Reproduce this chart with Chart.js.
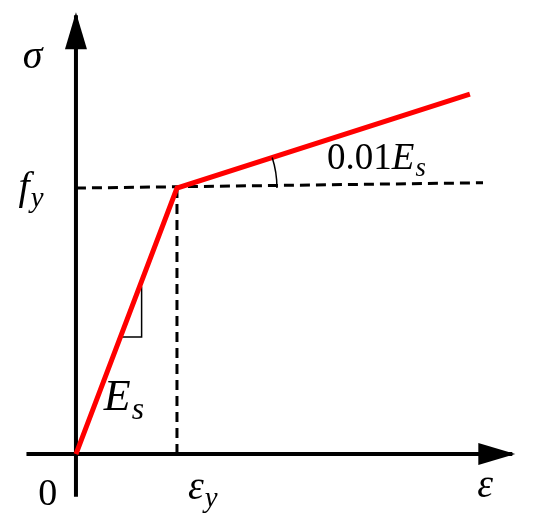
<!DOCTYPE html>
<html lang="en">
<head>
    <meta charset="UTF-8">
    <title>Bilinear steel model</title>
    <script src="https://cdn.jsdelivr.net/npm/chart.js"></script>
    <style>
        body {
            margin: 0;
            padding: 0;
            background-color: #fff;
        }
        canvas {
            display: block;
        }
    </style>
</head>
<body>
    <canvas id="steelChart" width="550" height="523"></canvas>

    <script>
        // strain in units of eps_y, stress in units of f_y
        const strain = [0, 1, 3.9];
        const stress = [0, 1, 1.353];

        // axes (with arrow tips) and the dashed guides
        const xAxisX = [-0.49, 4.32];
        const yAxisY = [-0.16, 1.65];
        const yieldLineX = [0, 4.03];
        const yieldLineY = [1, 1.02];

        // small slope triangle on the elastic branch
        const triX = [0.45, 0.65, 0.65];
        const triY = [0.44, 0.44, 0.63];

        // labels: [x, y, font size, parts]
        const labels = [
            [-0.43, 1.49, 40, [{ t: 'σ', it: true }]],
            [-0.45, 1.0, 40, [{ t: 'f', it: true }, { t: 'y', it: true, sub: true }]],
            [-0.28, -0.155, 38, [{ t: '0' }]],
            [1.25, -0.13, 40, [{ t: 'ε', it: true }, { t: 'y', it: true, sub: true }]],
            [4.05, -0.12, 40, [{ t: 'ε', it: true }]],
            [0.47, 0.21, 44, [{ t: 'E', it: true }, { t: 's', it: true, sub: true }]],
            [2.97, 1.11, 37, [{ t: '0.01' }, { t: 'E', it: true }, { t: 's', it: true, sub: true }]]
        ];

        const toPts = (xs, ys) => xs.map((x, i) => ({ x: x, y: ys[i] }));

        function line(data, color, width, dash, order) {
            return {
                data: data,
                showLine: true,
                borderColor: color,
                borderWidth: width,
                borderDash: dash || [],
                pointRadius: 0,
                fill: false,
                order: order
            };
        }

        function drawParts(ctx, parts, cx, cy, size) {
            const fam = '"Liberation Serif", "DejaVu Serif", serif';
            const pieces = parts.map(p => {
                const s = p.sub ? size * 0.72 : size;
                const font = (p.it ? 'italic ' : '') + s + 'px ' + fam;
                ctx.font = font;
                return { p: p, font: font, w: ctx.measureText(p.t).width };
            });
            const total = pieces.reduce((a, b) => a + b.w, 0);
            let x = cx - total / 2;
            ctx.textBaseline = 'middle';
            ctx.textAlign = 'left';
            pieces.forEach(pc => {
                ctx.font = pc.font;
                ctx.fillText(pc.p.t, x, pc.p.sub ? cy + size * 0.28 : cy);
                x += pc.w + (pc.p.it && !pc.p.sub ? 1 : 0);
            });
        }

        const decorations = {
            id: 'decorations',
            afterDatasetsDraw(chart) {
                const ctx = chart.ctx;
                const xs = chart.scales.x, ys = chart.scales.y;
                const px = v => xs.getPixelForValue(v);
                const py = v => ys.getPixelForValue(v);
                ctx.save();
                ctx.fillStyle = '#000';

                // arrow heads
                const ox = px(0), oy = py(0);
                const tipY = py(yAxisY[1]);
                ctx.beginPath();
                ctx.moveTo(ox, tipY - 3);
                ctx.lineTo(ox - 11, tipY + 34);
                ctx.lineTo(ox + 11, tipY + 34);
                ctx.closePath();
                ctx.fill();
                const tipX = px(xAxisX[1]);
                ctx.beginPath();
                ctx.moveTo(tipX + 3, oy);
                ctx.lineTo(tipX - 34, oy - 11);
                ctx.lineTo(tipX - 34, oy + 11);
                ctx.closePath();
                ctx.fill();

                // angle arc at the yield point
                const yx = px(strain[1]), yy = py(stress[1]);
                const ang = Math.atan2(py(stress[2]) - yy, px(strain[2]) - yx);
                ctx.strokeStyle = '#000';
                ctx.lineWidth = 1.5;
                ctx.beginPath();
                ctx.arc(yx, yy, 100, ang, 0);
                ctx.stroke();

                // labels
                labels.forEach(l => drawParts(ctx, l[3], px(l[0]), py(l[1]), l[2]));
                ctx.restore();
            }
        };

        const ctx = document.getElementById('steelChart').getContext('2d');
        new Chart(ctx, {
            type: 'scatter',
            data: {
                datasets: [
                    line(toPts(strain, stress), '#ff0000', 5, null, 0),
                    line(toPts(xAxisX, [0, 0]), '#000', 4, null, 2),
                    line(toPts([0, 0], yAxisY), '#000', 4, null, 2),
                    line(toPts(yieldLineX, yieldLineY), '#000', 3, [10, 6], 1),
                    line(toPts([1, 1], [0, 1]), '#000', 3, [10, 6], 1),
                    line(toPts(triX, triY), '#000', 1.5, null, 1)
                ]
            },
            options: {
                responsive: false,
                animation: false,
                layout: { padding: 0 },
                plugins: {
                    legend: { display: false },
                    tooltip: { enabled: false }
                },
                scales: {
                    x: { type: 'linear', display: false, min: -0.752, max: 4.693 },
                    y: { type: 'linear', display: false, min: -0.259, max: 1.707 }
                }
            },
            plugins: [decorations]
        });
    </script>
</body>
</html>
